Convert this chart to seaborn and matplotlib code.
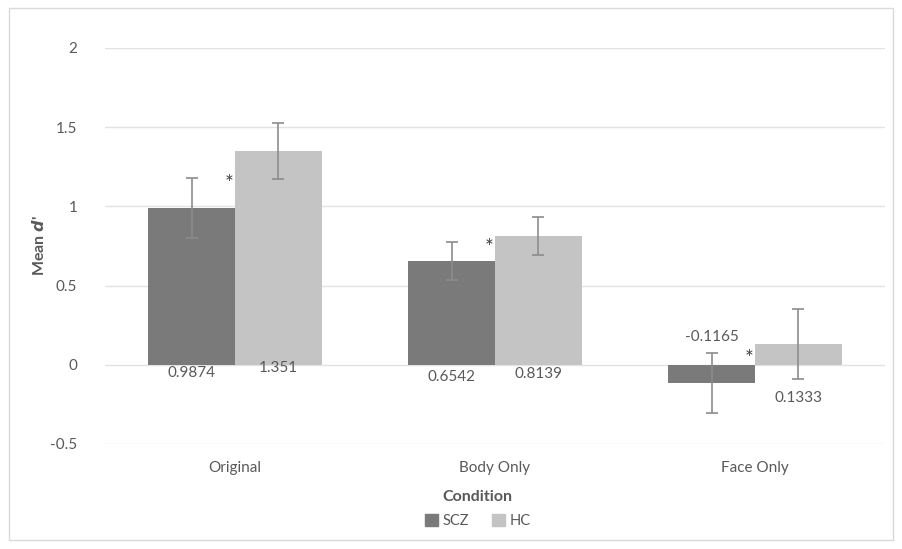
import numpy as np
import pandas as pd
import matplotlib
matplotlib.use("Agg")
import matplotlib.pyplot as plt
from matplotlib.patches import Rectangle
import seaborn as sns

# values
conditions = ["Original", "Body Only", "Face Only"]
groups = ["SCZ", "HC"]
scz_means = [0.9874, 0.6542, -0.1165]
hc_means = [1.351, 0.8139, 0.1333]
scz_err = [0.19, 0.118, 0.19]
hc_err = [0.175, 0.12, 0.22]
scz_labels = ["0.9874", "0.6542", "-0.1165"]
hc_labels = ["1.351", "0.8139", "0.1333"]
star_heights = [1.14, 0.74, 0.035]
y_ticks = [-0.5, 0, 0.5, 1, 1.5, 2]

df = pd.DataFrame({
    "Condition": conditions * 2,
    "Group": ["SCZ"] * 3 + ["HC"] * 3,
    "Mean": scz_means + hc_means,
})

sns.set_theme(style="white")
plt.rcParams["font.family"] = ["Lato", "DejaVu Sans"]

text_col = "#595959"
palette = {"SCZ": "#7a7a7a", "HC": "#c4c4c4"}

fig = plt.figure(figsize=(9.03, 5.49), dpi=100)
ax = fig.add_axes([0.1163, 0.1913, 0.8637, 0.7213])

sns.barplot(data=df, x="Condition", y="Mean", hue="Group", order=conditions,
            hue_order=groups, palette=palette, width=0.667, errorbar=None,
            saturation=1, legend=False, linewidth=0, ax=ax)

errs = {"SCZ": scz_err, "HC": hc_err}
labels = {"SCZ": scz_labels, "HC": hc_labels}
# offsets (points) for the data labels, mimicking the Excel placement
label_off = {"SCZ": [-6, -9, 20], "HC": [-2, -7, -24]}

for cont, g in zip(ax.containers, groups):
    for i, bar in enumerate(cont):
        xc = bar.get_x() + bar.get_width() / 2
        h = bar.get_height()
        ax.errorbar(xc, h, yerr=errs[g][i], color="#8c8c8c", lw=1.2,
                    capsize=4, capthick=1.2, zorder=3)
        ax.annotate(labels[g][i], (xc, 0), xytext=(0, label_off[g][i]),
                    textcoords="offset points", ha="center", va="center",
                    fontsize=11, color=text_col)

for i, s in enumerate(star_heights):
    ax.annotate("*", (i, s), xytext=(-4, 0), textcoords="offset points",
                ha="center", va="center", fontsize=15, color="#404040")

ax.set_ylim(-0.5, 2)
ax.set_xlim(-0.5, 2.5)
ax.set_yticks(y_ticks)
ax.set_yticklabels([f"{t:g}" for t in y_ticks])
ax.yaxis.grid(True, color="#e3e3e3", lw=1)
ax.set_axisbelow(True)
for sp in ax.spines.values():
    sp.set_visible(False)
ax.tick_params(axis="y", length=0, pad=20, labelsize=11, labelcolor=text_col)
ax.tick_params(axis="x", length=0, pad=12, labelsize=11, labelcolor=text_col)

ax.set_xlabel("")
ax.set_ylabel(r"Mean $\mathbfit{d}$'", fontsize=11.5, fontweight="bold", color=text_col)
ax.yaxis.set_label_coords(-0.075, 0.5)

fig.text(0.529, 0.095, "Condition", ha="center", va="center",
         fontsize=11.5, fontweight="bold", color=text_col)

handles = [Rectangle((0, 0), 1, 1, color=palette[g]) for g in groups]
fig.legend(handles, groups, loc="center", bbox_to_anchor=(0.529, 0.051),
           ncol=2, frameon=False, fontsize=10.5, handlelength=0.9,
           handleheight=0.9, handletextpad=0.3, columnspacing=1.6,
           labelcolor=text_col)

fig.patches.append(Rectangle((0.01, 0.016), 0.979, 0.97, transform=fig.transFigure,
                             fill=False, edgecolor="#d9d9d9", lw=1))

fig.savefig("out.png", dpi=100, facecolor="white")
